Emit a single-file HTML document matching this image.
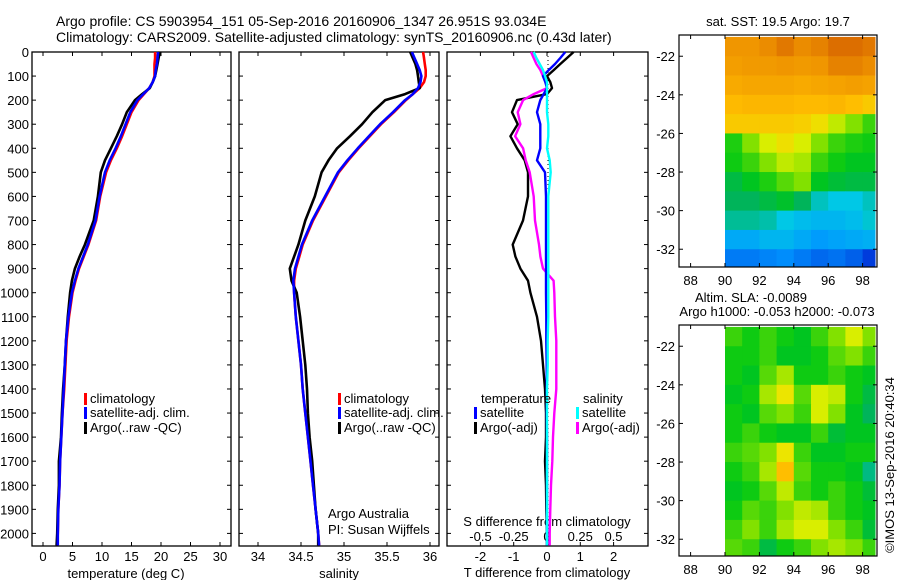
<!DOCTYPE html>
<html><head><meta charset="utf-8">
<style>
html,body{margin:0;padding:0;background:#fff;}
svg{display:block;font-family:"Liberation Sans",sans-serif;}
text{font-size:13px;fill:#000;}
</style></head>
<body>
<svg id="chart" width="900" height="580" viewBox="0 0 900 580" xmlns="http://www.w3.org/2000/svg">
<text x="56" y="26" style="font-size:14px">Argo profile: CS 5903954_151 05-Sep-2016 20160906_1347 26.951S 93.034E</text>
<text x="56" y="42" style="font-size:14px">Climatology: CARS2009. Satellite-adjusted climatology: synTS_20160906.nc (0.43d later)</text>
<text x="778" y="26" text-anchor="middle">sat. SST: 19.5 Argo: 19.7</text>
<text x="751" y="302" text-anchor="middle">Altim. SLA: -0.0089</text>
<text x="777" y="316" text-anchor="middle">Argo h1000: -0.053 h2000: -0.073</text>
<text transform="translate(894,465) rotate(-90)" text-anchor="middle">©IMOS 13-Sep-2016 20:40:34</text>
<g id="g"></g>
</svg>
<script>
const depths=[0,25,50,75,100,125,150,175,200,250,300,350,400,450,500,600,700,800,850,900,950,1000,1100,1200,1300,1400,1500,1600,1700,1800,1900,2000,2050];
const tArgo=[19.8,19.6,19.4,19.2,19,18.6,18.1,16.8,15.6,14.2,13.4,12.5,11.5,10.5,9.8,9.3,8.6,7.1,6.2,5.4,4.9,4.6,4.2,3.9,3.7,3.4,3.2,3.05,2.7,2.7,2.5,2.4,2.3];
const tSat=[19.5,19.4,19.3,19.1,19,18.6,18,17,16,14.8,14,13.2,12.3,11.3,10.5,9.6,8.9,7.6,6.8,6,5.4,4.9,4.3,3.9,3.7,3.5,3.3,3.1,2.9,2.8,2.6,2.5,2.5];
const tClim=[19.0,19.0,18.9,18.9,18.9,18.6,18,17.1,16.2,15,14.2,13.4,12.5,11.5,10.7,9.7,9,7.7,6.9,6.1,5.5,5,4.4,4,3.8,3.6,3.3,3.1,2.9,2.8,2.6,2.5,2.4];
const sArgo=[35.77,35.8,35.83,35.85,35.86,35.87,35.88,35.71,35.48,35.33,35.21,35.07,34.92,34.82,34.74,34.66,34.55,34.47,34.42,34.37,34.39,34.45,34.49,34.52,34.55,34.57,34.58,34.6,34.63,34.65,34.67,34.7,34.7];
const sSat=[35.79,35.82,35.85,35.88,35.9,35.89,35.86,35.8,35.71,35.57,35.42,35.29,35.16,35.04,34.93,34.78,34.63,34.51,34.47,34.43,34.41,34.42,34.44,34.47,34.5,34.52,34.55,34.58,34.61,34.64,34.67,34.7,34.71];
const sClim=[35.92,35.93,35.94,35.95,35.95,35.93,35.88,35.8,35.72,35.58,35.43,35.3,35.17,35.05,34.94,34.79,34.64,34.52,34.48,34.44,34.42,34.42,34.44,34.47,34.5,34.52,34.55,34.58,34.61,34.64,34.67,34.7,34.71];
const dtArgo=[0.8,0.6,0.4,0.2,0,0.1,0.15,0,-0.9,-1.05,-0.88,-1.1,-0.9,-0.67,-0.57,-0.57,-0.72,-1.03,-0.95,-0.8,-0.57,-0.5,-0.3,-0.18,-0.12,-0.06,-0.03,-0.03,-0.06,-0.03,-0.02,0,0];
const dtSat=[0.55,0.4,0.24,0.05,-0.12,-0.05,0,-0.1,-0.2,-0.3,-0.2,-0.2,-0.2,-0.3,-0.06,-0.03,-0.03,-0.03,-0.03,-0.03,-0.03,-0.03,-0.02,-0.02,-0.01,-0.01,-0.01,0,0,0,0,0,0];
const dsArgo=[-0.12,-0.1,-0.08,-0.05,-0.03,-0.01,0,-0.1,-0.18,-0.22,-0.2,-0.24,-0.18,-0.16,-0.13,-0.1,-0.09,-0.06,-0.05,-0.03,0.05,0.055,0.06,0.07,0.07,0.07,0.055,0.045,0.04,0.03,0.025,0.02,0.02];
const dsCyan=[-0.1,-0.08,-0.055,-0.03,-0.014,0,0,0,0,0,0.01,0.01,0,0.02,0.028,0.01,0.01,0.01,0.01,0.01,0.01,0.01,0.01,0.005,0.005,0,0,0,0,0,0,0,0];
const depthTicks=[0,100,200,300,400,500,600,700,800,900,1000,1100,1200,1300,1400,1500,1600,1700,1800,1900,2000];
const tempTicks=[0,5,10,15,20,25,30];
const salTicks=[34,34.5,35,35.5,36];
const salTickLabels=["34","34.5","35","35.5","36"];
const dtTicks=[-2,-1,0,1,2];
const dsTicks=[-0.5,-0.25,0,0.25,0.5];
const dsTickLabels=["-0.5","-0.25","0","0.25","0.5"];
const latTicks=[-22,-24,-26,-28,-30,-32];
const lonTicks=[88,90,92,94,96,98];
const mapLats=[-21,-22,-23,-24,-25,-26,-27,-28,-29,-30,-31,-32];
const mapLons=[90,91,92,93,94,95,96,97,98];
const sstGrid=[
[.82,.82,.83,.85,.83,.84,.86,.86,.85],
[.80,.81,.81,.82,.81,.82,.84,.84,.83],
[.77,.78,.78,.78,.77,.78,.79,.80,.79],
[.73,.74,.74,.74,.73,.73,.74,.72,.70],
[.70,.70,.70,.70,.69,.66,.60,.55,.50],
[.48,.55,.62,.66,.62,.55,.50,.48,.47],
[.47,.50,.55,.60,.58,.50,.47,.45,.45],
[.42,.45,.48,.52,.55,.45,.43,.42,.42],
[.40,.40,.42,.44,.40,.35,.33,.33,.35],
[.37,.37,.36,.33,.31,.30,.30,.31,.34],
[.28,.28,.30,.30,.28,.26,.27,.28,.29],
[.22,.22,.23,.24,.22,.20,.21,.19,.15]];
const slaGrid=[
[.50,.47,.50,.47,.45,.50,.55,.62,.55],
[.47,.47,.50,.45,.45,.47,.52,.55,.50],
[.47,.45,.52,.58,.47,.47,.50,.47,.45],
[.45,.47,.58,.65,.52,.62,.60,.47,.42],
[.47,.45,.52,.55,.50,.62,.55,.45,.40],
[.47,.50,.47,.45,.45,.50,.43,.45,.45],
[.50,.52,.55,.65,.50,.45,.45,.47,.47],
[.47,.50,.58,.72,.52,.47,.47,.45,.38],
[.45,.47,.52,.60,.50,.47,.50,.47,.43],
[.47,.52,.50,.55,.60,.58,.50,.47,.45],
[.50,.55,.50,.58,.62,.62,.55,.50,.43],
[.52,.50,.42,.47,.50,.55,.58,.55,.50]];

const NS='http://www.w3.org/2000/svg';
const G=document.getElementById('g');
function mk(tag,attrs,parent){const e=document.createElementNS(NS,tag);for(const k in attrs)e.setAttribute(k,attrs[k]);(parent||G).appendChild(e);return e;}
function txt(x,y,s,anchor,parent){const e=mk('text',{x:x,y:y,'text-anchor':anchor||'start'},parent);e.textContent=s;return e;}
const TOP=52,BOT=546;
const yD=d=>TOP+d*0.2407;
const xT=t=>43+t*5.9;
const xS=s=>258+(s-34)*86;
const xDT=v=>547+v*33.3;
const xDS=v=>547+v*133;

function panel(x0,x1,name){
  const r=mk('rect',{x:x0,y:TOP,width:x1-x0,height:BOT-TOP,fill:'none',stroke:'#000','stroke-width':1.3});
  
  
  depthTicks.forEach(d=>{
    const y=yD(d);
    if(y>BOT)return;
    mk('line',{x1:x0,y1:y,x2:x0+4,y2:y,stroke:'#000'});
    mk('line',{x1:x1-4,y1:y,x2:x1,y2:y,stroke:'#000'});
  });
}
function profile(xf,vals,color,name,w){
  const pts=vals.map((v,i)=>xf(v).toFixed(1)+','+yD(depths[i]).toFixed(1)).join(' ');
  const p=mk('polyline',{points:pts,fill:'none',stroke:color,'stroke-width':w||2.6,'stroke-linejoin':'round'});
  
  
}
function xticks(x0,x1,vals,labels,f,y,lblY,name){
  const g=mk('g',{});
  
  
  vals.forEach((v,i)=>{
    const x=f(v);
    mk('line',{x1:x,y1:BOT,x2:x,y2:BOT-4,stroke:'#000'},g);
    if(y!==null) mk('line',{x1:x,y1:TOP,x2:x,y2:TOP+4,stroke:'#000'},g);
    txt(x,lblY,labels[i],'middle',g);
  });
}
panel(32,231,'temperature-panel');
const dl=mk('g',{});


depthTicks.forEach(d=>txt(29,yD(d)+5,String(d),'end',dl));
xticks(32,231,tempTicks,tempTicks.map(String),xT,1,561,'temperature-x-axis');
txt(126,578,'temperature (deg C)','middle');
profile(xT,tClim,'#f00','temp-climatology-line');
profile(xT,tArgo,'#000','temp-argo-line');
profile(xT,tSat,'#00f','temp-satellite-line');
panel(239,439,'salinity-panel');
xticks(239,439,salTicks,salTickLabels,xS,1,561,'salinity-x-axis');
txt(339,578,'salinity','middle');
profile(xS,sClim,'#f00','sal-climatology-line');
profile(xS,sArgo,'#000','sal-argo-line');
profile(xS,sSat,'#00f','sal-satellite-line');
panel(447,648,'difference-panel');
mk('line',{x1:548,y1:TOP,x2:548,y2:BOT,stroke:'#000','stroke-dasharray':'1,3'});
xticks(447,648,dtTicks,dtTicks.map(String),xDT,1,561,'t-difference-axis');
const sg=mk('g',{});


dsTicks.forEach((v,i)=>txt(xDS(v),541,dsTickLabels[i],'middle',sg));
txt(547,526,'S difference from climatology','middle');
txt(547,577,'T difference from climatology','middle');
profile(xDT,dtArgo,'#000','dt-argo-line',2.4);
profile(xDS,dsArgo,'#f0f','ds-argo-line',2.4);
profile(xDT,dtSat,'#00f','dt-satellite-line',2.4);
profile(xDS,dsCyan,'#0ff','ds-satellite-line',2.4);
function legend(x,y,color,label,name){
  const g=mk('g',{});
  
  
  mk('rect',{x:x,y:y-10,width:3,height:12,fill:color},g);
  txt(x+6,y,label,'start',g);
}
legend(84,403,'#f00','climatology','legend-temp-climatology');
legend(84,417,'#00f','satellite-adj. clim.','legend-temp-satellite');
legend(84,432,'#000','Argo(..raw -QC)','legend-temp-argo');
legend(338,403,'#f00','climatology','legend-sal-climatology');
legend(338,417,'#00f','satellite-adj. clim.','legend-sal-satellite');
legend(338,432,'#000','Argo(..raw -QC)','legend-sal-argo');
txt(481,403,'temperature','start');
txt(583,403,'salinity','start');
legend(474,417,'#00f','satellite','legend-dt-satellite');
legend(474,432,'#000','Argo(-adj)','legend-dt-argo');
legend(576,417,'#0ff','satellite','legend-ds-satellite');
legend(576,432,'#f0f','Argo(-adj)','legend-ds-argo');
txt(328,518,'Argo Australia','start');
txt(328,534,'PI: Susan Wijffels','start');

const stops=[[0,[0,0,140]],[.15,[0,60,220]],[.25,[0,150,255]],[.33,[0,200,230]],[.40,[0,180,90]],[.46,[0,200,20]],[.55,[130,225,0]],[.63,[230,240,0]],[.72,[255,190,0]],[.82,[240,150,0]],[.9,[200,70,0]],[1,[140,0,0]]];
function cmap(v){
  for(let i=1;i<stops.length;i++){
    if(v<=stops[i][0]){const a=stops[i-1],b=stops[i];const f=(v-a[0])/(b[0]-a[0]);
      return 'rgb('+a[1].map((c,k)=>Math.round(c+(b[1][k]-c)*f)).join(',')+')';}
  }
  return 'rgb(140,0,0)';
}
function map(top,bot,grid,name){
  const L=679,R=877;
  const xL=lon=>725+(lon-90)*17.2;
  const yL=lat=>top+(-20.9-lat)*19.3;
  const id='clip'+name;
  const cp=mk('clipPath',{id:id});
  mk('rect',{x:L,y:top,width:R-L,height:bot-top},cp);
  const g=mk('g',{'clip-path':'url(#'+id+')'});
  
  
  grid.forEach((row,i)=>row.forEach((v,j)=>{
    const lon=mapLons[j],lat=mapLats[i];
    const c=mk('rect',{x:xL(lon),y:yL(lat),width:17.6,height:19.7,fill:cmap(v)},g);
    
    
  }));
  mk('rect',{x:xL(98.75),y:top,width:10,height:bot-top,fill:'#fff'});
  const fr=mk('rect',{x:L,y:top,width:R-L,height:bot-top,fill:'none',stroke:'#000','stroke-width':1.2});
  
  
  latTicks.forEach(lat=>{const y=yL(lat);
    mk('line',{x1:L,y1:y,x2:L+4,y2:y,stroke:'#000'});mk('line',{x1:R-4,y1:y,x2:R,y2:y,stroke:'#000'});
    txt(L-4,y+5,String(lat),'end');});
  lonTicks.forEach(lon=>{const x=xL(lon);
    mk('line',{x1:x,y1:bot,x2:x,y2:bot-4,stroke:'#000'});mk('line',{x1:x,y1:top,x2:x,y2:top+4,stroke:'#000'});
    txt(x,bot+18,String(lon),'middle');});
}
map(35,267,sstGrid,'sst-map');
map(325,556,slaGrid,'sla-map');
</script>
</body></html>
